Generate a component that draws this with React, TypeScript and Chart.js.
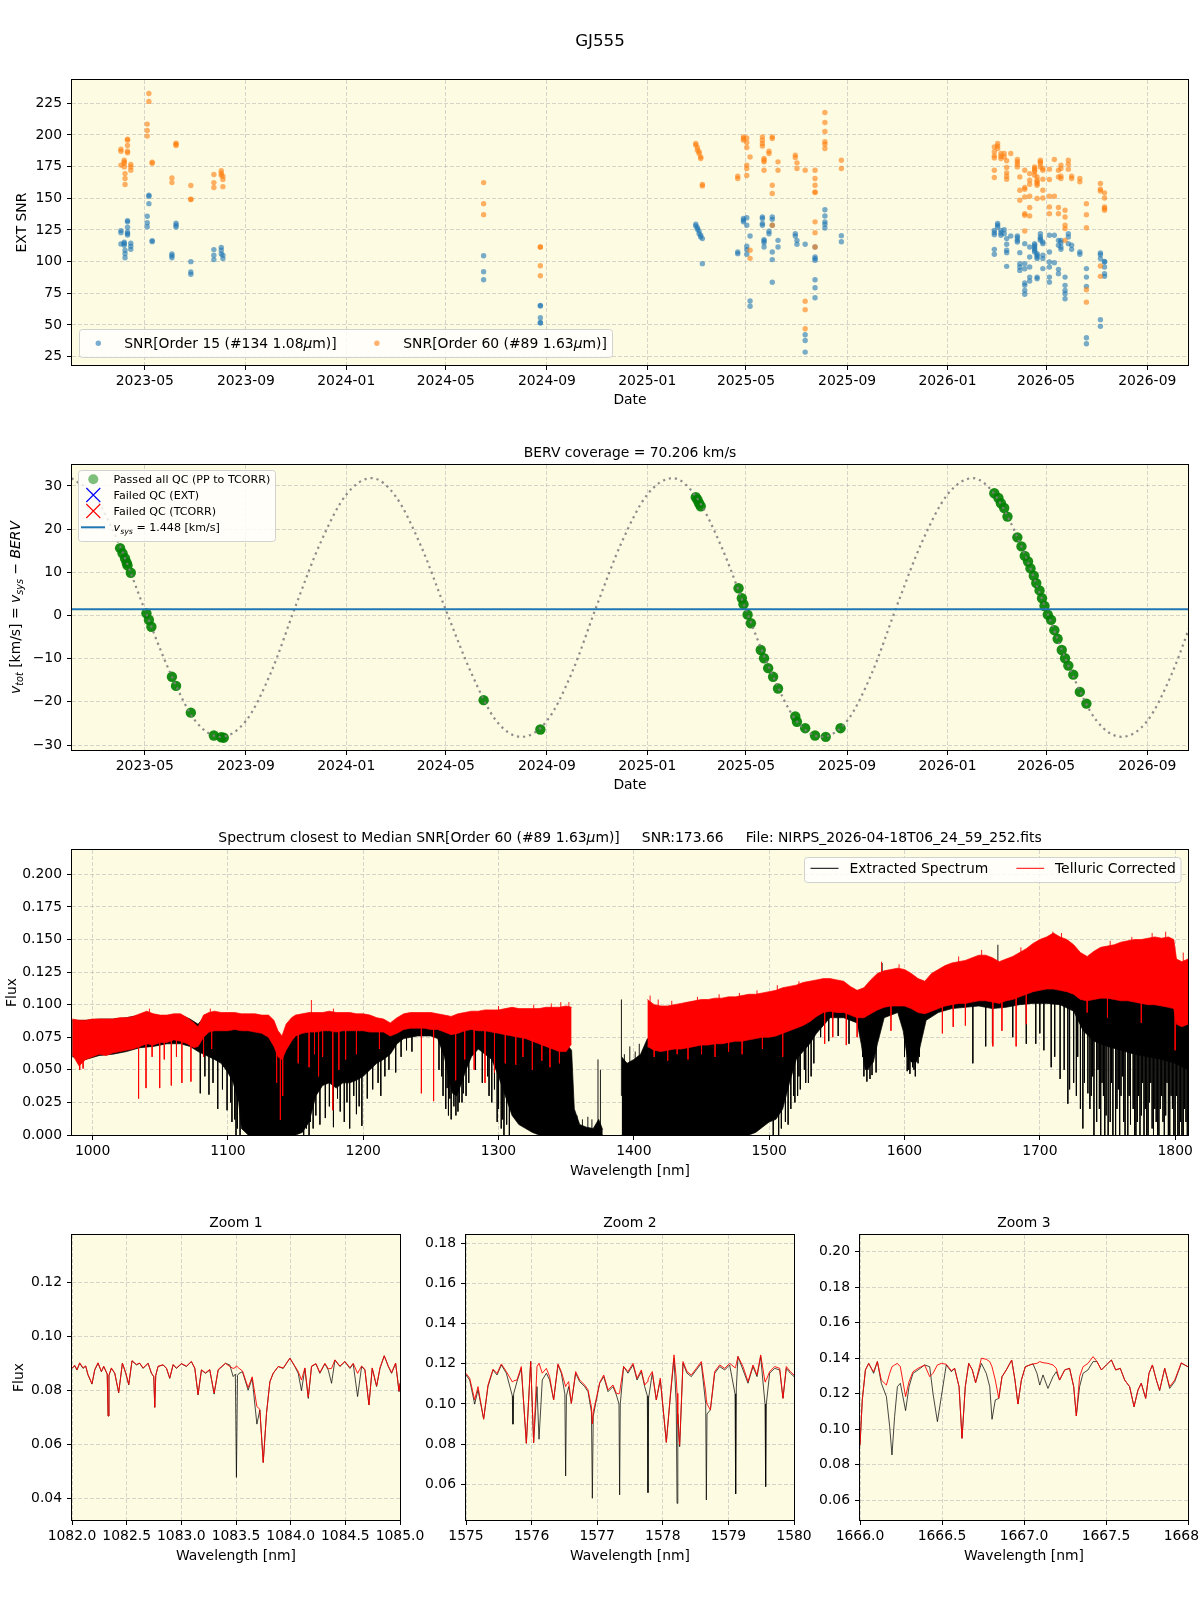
import React, { useEffect, useRef } from 'react';
import { Chart, registerables } from 'chart.js';

Chart.register(...registerables);

/* ---------------- shared styling ---------------- */
const FONT = 'DejaVu Sans';
const PLOT_BG = 'rgb(253, 251, 226)';
const GRID_COLOR = 'rgba(176, 176, 176, 0.65)';
const TICK_SIZE = 13.9;
const LABEL_SIZE = 13.9;
const BLUE = '#1f77b4';
const BLUE_A = 'rgba(31, 119, 180, 0.6)';
const ORANGE_A = 'rgba(255, 127, 14, 0.6)';

/* ---------------- EXT SNR per night: [date, values] ---------------- */
const snrOrder15: [string, number[]][] = [
  ['2023-04-02', [124.5, 122.9, 114.0]],
  ['2023-04-06', [115.3, 114.3, 112.9]],
  ['2023-04-07', [109.0, 106.3, 103.1]],
  ['2023-04-10', [132.4, 131.4, 127.1, 123.4, 122.1, 121.0]],
  ['2023-04-14', [114.5, 112.1, 109.7]],
  ['2023-05-04', [135.8, 130.8, 127.6]],
  ['2023-05-06', [152.4, 151.6, 145.8]],
  ['2023-05-10', [116.6, 115.8]],
  ['2023-06-03', [106.0, 104.7, 103.1]],
  ['2023-06-08', [130.3, 128.7, 127.4]],
  ['2023-06-26', [100.0, 91.8, 90.0]],
  ['2023-07-24', [109.5, 105.0, 101.6]],
  ['2023-08-02', [111.3, 109.0, 106.0]],
  ['2023-08-04', [105.0, 102.4]],
  ['2024-06-16', [104.7, 92.0, 85.7]],
  ['2024-08-24', [65.5, 65.0, 55.7, 52.0, 51.5]],
  ['2025-03-01', [129.5, 128.2]],
  ['2025-03-03', [126.8, 125.5]],
  ['2025-03-05', [124.2, 122.1]],
  ['2025-03-07', [120.8, 119.5]],
  ['2025-03-09', [118.2, 98.4]],
  ['2025-04-21', [107.6, 106.3]],
  ['2025-04-28', [134.0, 132.7, 131.4]],
  ['2025-05-02', [134.6, 128.7, 112.1, 109.5, 105.8]],
  ['2025-05-06', [120.2, 68.9, 64.8]],
  ['2025-05-21', [135.3, 134.0, 130.1, 128.7]],
  ['2025-05-23', [117.4, 116.3, 115.0, 111.6]],
  ['2025-05-29', [124.0, 122.0]],
  ['2025-06-02', [135.3, 133.4, 128.7, 107.6, 101.6, 83.7]],
  ['2025-06-09', [116.8, 111.6]],
  ['2025-06-30', [122.1, 120.2]],
  ['2025-07-02', [116.8, 113.7]],
  ['2025-07-12', [113.7, 42.3, 37.8, 28.6]],
  ['2025-07-24', [111.6, 103.7, 102.4, 101.1, 85.7, 79.4, 71.5]],
  ['2025-08-05', [141.0, 136.0, 131.4, 129.5, 126.6]],
  ['2025-08-25', [120.5, 115.7]],
  ['2026-02-27', [124.7, 122.9, 121.3, 109.7, 105.8]],
  ['2026-03-03', [130.1, 128.7, 127.4]],
  ['2026-03-07', [124.7, 122.6, 120.8]],
  ['2026-03-11', [125.2, 122.1]],
  ['2026-03-14', [118.2, 113.7, 109.0, 107.1, 96.3]],
  ['2026-03-19', [120.2]],
  ['2026-03-27', [120.2, 118.9, 116.8, 115.5]],
  ['2026-03-30', [107.1, 98.4, 95.8, 93.1]],
  ['2026-04-05', [114.2, 98.4, 94.4, 83.1, 81.3, 77.3, 74.2]],
  ['2026-04-11', [111.6, 103.7, 95.8, 87.8, 84.7]],
  ['2026-04-17', [114.2, 112.9, 111.6, 110.2, 108.9, 107.6]],
  ['2026-04-20', [106.3, 105.0, 103.7, 102.4, 87.8, 86.5]],
  ['2026-04-24', [122.1, 119.4, 118.2, 116.8]],
  ['2026-04-27', [115.5, 114.2, 105.0, 102.4, 94.5]],
  ['2026-05-05', [120.8, 107.6, 99.7, 95.8, 87.8, 83.8]],
  ['2026-05-11', [120.8, 99.2]],
  ['2026-05-16', [116.8, 112.9, 93.9, 90.5]],
  ['2026-05-19', [116.8, 115.0, 111.6, 109.7]],
  ['2026-05-24', [87.8, 81.3, 77.3, 74.7, 70.7]],
  ['2026-05-28', [122.1, 119.4, 114.2]],
  ['2026-06-01', [112.9, 109.7]],
  ['2026-06-11', [107.6, 105.8]],
  ['2026-06-19', [94.5, 87.8, 80.5, 39.9, 35.2]],
  ['2026-07-06', [106.8, 105.5, 102.4, 54.2, 48.9]],
  ['2026-07-11', [100.2, 99.7, 95.8, 90.5, 88.4]],
];

const snrOrder60: [string, number[]][] = [
  ['2023-04-02', [188.8, 187.2, 176.2]],
  ['2023-04-06', [180.1, 178.8, 177.5, 174.8]],
  ['2023-04-07', [169.5, 165.6, 160.9]],
  ['2023-04-10', [196.7, 195.9, 191.7, 187.2, 185.9]],
  ['2023-04-14', [176.7, 174.8, 172.2]],
  ['2023-05-04', [208.6, 203.6, 199.1]],
  ['2023-05-06', [232.8, 226.5]],
  ['2023-05-10', [178.5, 177.7]],
  ['2023-06-03', [166.1, 162.4]],
  ['2023-06-08', [193.5, 192.7, 191.7]],
  ['2023-06-26', [160.1, 149.2, 149.0]],
  ['2023-07-24', [168.8, 162.4, 158.5]],
  ['2023-08-02', [171.7, 169.9, 168.3]],
  ['2023-08-04', [167.5, 164.8, 159.2]],
  ['2024-06-16', [162.4, 145.8, 137.1]],
  ['2024-08-24', [111.8, 111.3, 96.8, 88.9]],
  ['2025-03-01', [193.3, 192.0]],
  ['2025-03-03', [190.1, 188.0]],
  ['2025-03-05', [186.7, 185.4]],
  ['2025-03-07', [182.7, 181.4]],
  ['2025-03-09', [160.9, 159.8]],
  ['2025-04-21', [167.5, 165.6]],
  ['2025-04-28', [198.5, 197.2, 195.9]],
  ['2025-05-02', [197.7, 194.0, 190.1, 176.2, 173.5, 168.0]],
  ['2025-05-06', [182.7, 109.0, 102.6]],
  ['2025-05-21', [198.5, 195.9, 193.3, 191.2]],
  ['2025-05-23', [181.4, 180.1, 178.8, 172.2]],
  ['2025-05-29', [187.2, 185.4]],
  ['2025-06-02', [198.5, 197.2, 160.3, 153.8, 128.7]],
  ['2025-06-09', [178.8, 172.2]],
  ['2025-06-30', [184.1, 182.2]],
  ['2025-07-02', [178.0, 173.5]],
  ['2025-07-12', [172.2, 68.7, 62.1, 47.0]],
  ['2025-07-24', [172.2, 165.6, 160.3, 155.1, 154.5, 131.4, 122.9, 111.6]],
  ['2025-08-05', [217.8, 209.9, 202.8, 194.6, 192.7, 189.3]],
  ['2025-08-25', [180.1, 173.5]],
  ['2026-02-27', [190.6, 186.7, 183.5, 181.9, 172.2, 166.4]],
  ['2026-03-03', [193.3, 191.2, 189.3]],
  ['2026-03-07', [185.4, 183.2, 181.4]],
  ['2026-03-11', [185.4, 182.7]],
  ['2026-03-14', [179.6, 174.3, 170.1, 167.5, 165.1]],
  ['2026-03-19', [185.4]],
  ['2026-03-27', [180.6, 178.8, 176.9, 174.8]],
  ['2026-03-30', [166.9, 156.4, 148.5]],
  ['2026-04-05', [172.2, 158.5, 157.1, 151.1, 137.9, 136.6, 124.2]],
  ['2026-04-11', [169.5, 164.3, 161.1, 151.6, 142.7, 136.1]],
  ['2026-04-17', [174.8, 173.5, 172.2, 170.9, 168.3]],
  ['2026-04-20', [166.9, 164.3, 163.0, 161.7, 160.3, 149.8]],
  ['2026-04-24', [180.1, 178.8, 177.5, 174.8]],
  ['2026-04-27', [173.5, 172.2, 165.1, 156.4, 150.3]],
  ['2026-05-05', [173.0, 164.8, 151.6, 143.2, 137.9]],
  ['2026-05-11', [180.6, 151.6]],
  ['2026-05-16', [172.2, 166.9, 142.7, 137.9]],
  ['2026-05-19', [176.2, 173.5, 167.5, 165.6]],
  ['2026-05-24', [140.6, 135.3, 128.7, 126.1, 116.8]],
  ['2026-05-28', [180.1, 176.9, 173.0]],
  ['2026-06-01', [167.5, 165.6]],
  ['2026-06-11', [165.6, 163.0]],
  ['2026-06-19', [145.8, 137.1, 126.8, 77.8, 68.0]],
  ['2026-07-06', [161.7, 157.1, 155.8, 96.5, 88.4]],
  ['2026-07-11', [154.3, 150.3, 143.2, 141.9, 140.6]],
];

const snrTicks = [25, 50, 75, 100, 125, 150, 175, 200, 225];
const snrLimits = [18.4, 243.4];
const dateTicks = ['2023-05', '2023-09', '2024-01', '2024-05', '2024-09', '2025-01', '2025-05', '2025-09', '2026-01', '2026-05', '2026-09'];
const dateLimits = ['2023-02-01T12:00:00Z', '2026-10-20T12:00:00Z'];

/* ---------------- BERV ---------------- */
// barycentric velocity track, first of each month
const bervTrackDates = [
  '2023-02-01', '2023-03-01', '2023-04-01', '2023-05-01', '2023-06-01', '2023-07-01', '2023-08-01', '2023-09-01', '2023-10-01', '2023-11-01', '2023-12-01',
  '2024-01-01', '2024-02-01', '2024-03-01', '2024-04-01', '2024-05-01', '2024-06-01', '2024-07-01', '2024-08-01', '2024-09-01', '2024-10-01', '2024-11-01', '2024-12-01',
  '2025-01-01', '2025-02-01', '2025-03-01', '2025-04-01', '2025-05-01', '2025-06-01', '2025-07-01', '2025-08-01', '2025-09-01', '2025-10-01', '2025-11-01', '2025-12-01',
  '2026-01-01', '2026-02-01', '2026-03-01', '2026-04-01', '2026-05-01', '2026-06-01', '2026-07-01', '2026-08-01', '2026-09-01', '2026-10-01', '2026-11-01',
];
const bervTrack = [
  31.8, 27.6, 16.0, 1.3, -13.3, -24.3, -28.1, -24.4, -13.4, 2.5, 17.0,
  28.0, 31.8, 27.6, 16.0, 1.3, -13.3, -24.3, -28.1, -24.4, -13.4, 2.5, 17.0,
  28.0, 31.8, 27.6, 16.0, 1.3, -13.3, -24.3, -28.1, -24.4, -13.4, 2.5, 17.0,
  28.0, 31.8, 27.6, 16.0, 1.3, -13.3, -24.3, -28.1, -24.4, -13.4, 2.5,
];
// observations that passed all QC: [date, v_tot]
const bervPassed: [string, number][] = [
  ['2023-04-01', 15.6], ['2023-04-04', 14.4], ['2023-04-07', 13.2], ['2023-04-09', 12.2], ['2023-04-10', 11.6], ['2023-04-14', 9.9],
  ['2023-05-03', 0.5], ['2023-05-06', -1.0], ['2023-05-09', -2.6], ['2023-06-03', -14.2], ['2023-06-08', -16.3], ['2023-06-26', -22.5],
  ['2023-07-24', -27.8], ['2023-08-02', -28.2], ['2023-08-05', -28.3],
  ['2024-06-16', -19.6], ['2024-08-24', -26.4],
  ['2025-03-01', 27.4], ['2025-03-03', 26.8], ['2025-03-05', 26.0], ['2025-03-07', 25.3],
  ['2025-04-22', 6.3], ['2025-04-26', 4.0], ['2025-04-28', 2.6], ['2025-05-03', 0.2], ['2025-05-07', -1.8],
  ['2025-05-19', -8.0], ['2025-05-23', -9.9], ['2025-05-28', -12.2], ['2025-06-03', -14.2], ['2025-06-09', -16.9],
  ['2025-06-30', -23.4], ['2025-07-02', -24.6], ['2025-07-12', -26.1], ['2025-07-24', -27.8], ['2025-08-06', -28.1], ['2025-08-24', -26.1],
  ['2026-02-27', 28.3], ['2026-03-04', 27.2], ['2026-03-07', 26.0], ['2026-03-11', 24.9], ['2026-03-15', 22.9],
  ['2026-03-27', 18.1], ['2026-04-01', 16.0], ['2026-04-05', 13.8], ['2026-04-09', 12.5], ['2026-04-12', 10.9],
  ['2026-04-16', 9.2], ['2026-04-19', 7.5], ['2026-04-23', 5.8], ['2026-04-26', 4.0], ['2026-04-29', 2.2],
  ['2026-05-03', 0.2], ['2026-05-07', -1.0], ['2026-05-11', -3.4], ['2026-05-15', -5.4], ['2026-05-20', -8.0],
  ['2026-05-24', -9.9], ['2026-05-28', -11.6], ['2026-06-03', -13.7], ['2026-06-11', -17.7], ['2026-06-19', -20.4],
];
const vsys = 1.448;
const bervCoverage = 70.206;
const bervTicks = [-30, -20, -10, 0, 10, 20, 30];
const bervLimits = [-31.15, 34.85];

/* ---------------- full spectrum ---------------- */
// telluric-corrected flux envelope: [wavelength nm, upper, lower]; null rows are detector gaps
const tcEnvelope: [number, number | null, number | null][] = [
  [985, 0.089, 0.062], [990, 0.088, 0.053], [995, 0.088, 0.058], [1000, 0.089, 0.060], [1005, 0.089, 0.062],
  [1010, 0.089, 0.061], [1015, 0.089, 0.063], [1020, 0.090, 0.064], [1025, 0.090, 0.065], [1030, 0.091, 0.066],
  [1035, 0.093, 0.068], [1040, 0.095, 0.070], [1045, 0.093, 0.069], [1050, 0.092, 0.071], [1055, 0.092, 0.071],
  [1060, 0.093, 0.073], [1065, 0.093, 0.072], [1070, 0.090, 0.070], [1075, 0.086, 0.067], [1078, 0.083, 0.068],
  [1082, 0.092, 0.075], [1086, 0.094, 0.079], [1090, 0.095, 0.080], [1095, 0.094, 0.080], [1100, 0.094, 0.080],
  [1105, 0.094, 0.081], [1110, 0.093, 0.080], [1115, 0.093, 0.080], [1120, 0.093, 0.079], [1125, 0.092, 0.078],
  [1130, 0.092, 0.075], [1134, 0.088, 0.068], [1137, 0.080, 0.060], [1140, 0.076, 0.058], [1143, 0.085, 0.065],
  [1147, 0.090, 0.072], [1150, 0.092, 0.076], [1155, 0.093, 0.078], [1160, 0.094, 0.079], [1165, 0.094, 0.079],
  [1170, 0.094, 0.080], [1175, 0.095, 0.080], [1180, 0.094, 0.079], [1185, 0.094, 0.080], [1190, 0.094, 0.080],
  [1195, 0.093, 0.080], [1200, 0.093, 0.080], [1205, 0.092, 0.079], [1210, 0.090, 0.079], [1215, 0.089, 0.079],
  [1220, 0.086, 0.076], [1225, 0.090, 0.078], [1230, 0.093, 0.081], [1235, 0.094, 0.082], [1240, 0.094, 0.082],
  [1245, 0.094, 0.082], [1250, 0.094, 0.081], [1255, 0.093, 0.081], [1260, 0.092, 0.079], [1265, 0.091, 0.077],
  [1270, 0.093, 0.078], [1275, 0.094, 0.080], [1280, 0.095, 0.081], [1285, 0.095, 0.080], [1290, 0.096, 0.080],
  [1295, 0.096, 0.079], [1300, 0.096, 0.078], [1305, 0.097, 0.077], [1310, 0.098, 0.076], [1315, 0.097, 0.075],
  [1320, 0.097, 0.074], [1325, 0.097, 0.072], [1330, 0.097, 0.070], [1335, 0.098, 0.068], [1340, 0.098, 0.066],
  [1345, 0.098, 0.064], [1350, 0.099, 0.064], [1354, 0.098, 0.070],
  [1380, null, null],
  [1410, 0.104, 0.068], [1415, 0.100, 0.065], [1420, 0.099, 0.064], [1425, 0.099, 0.065], [1430, 0.100, 0.066],
  [1435, 0.101, 0.066], [1440, 0.102, 0.067], [1445, 0.103, 0.068], [1450, 0.104, 0.069], [1455, 0.104, 0.069],
  [1460, 0.105, 0.070], [1465, 0.105, 0.070], [1470, 0.106, 0.071], [1475, 0.106, 0.072], [1480, 0.107, 0.072],
  [1485, 0.108, 0.073], [1490, 0.108, 0.074], [1495, 0.109, 0.075], [1500, 0.110, 0.075], [1505, 0.111, 0.076],
  [1510, 0.113, 0.078], [1515, 0.114, 0.080], [1520, 0.115, 0.082], [1525, 0.117, 0.084], [1530, 0.118, 0.087],
  [1535, 0.119, 0.091], [1540, 0.120, 0.094], [1545, 0.120, 0.095], [1550, 0.119, 0.094], [1555, 0.118, 0.094],
  [1560, 0.114, 0.092], [1565, 0.111, 0.090], [1570, 0.113, 0.090], [1575, 0.119, 0.093], [1580, 0.124, 0.096],
  [1585, 0.126, 0.098], [1590, 0.127, 0.099], [1595, 0.128, 0.099], [1600, 0.127, 0.099], [1605, 0.124, 0.097],
  [1610, 0.120, 0.094], [1615, 0.118, 0.093], [1620, 0.124, 0.095], [1625, 0.127, 0.097], [1630, 0.130, 0.099],
  [1635, 0.132, 0.100], [1640, 0.133, 0.101], [1645, 0.134, 0.101], [1650, 0.136, 0.102], [1655, 0.138, 0.103],
  [1660, 0.138, 0.103], [1665, 0.136, 0.102], [1670, 0.133, 0.101], [1675, 0.135, 0.103], [1680, 0.137, 0.104],
  [1685, 0.140, 0.106], [1690, 0.143, 0.108], [1695, 0.147, 0.110], [1700, 0.150, 0.111], [1705, 0.152, 0.112],
  [1710, 0.155, 0.112], [1715, 0.152, 0.111], [1720, 0.150, 0.110], [1725, 0.146, 0.108], [1730, 0.140, 0.104],
  [1735, 0.137, 0.103], [1740, 0.141, 0.104], [1745, 0.144, 0.105], [1750, 0.145, 0.105], [1755, 0.146, 0.104],
  [1760, 0.148, 0.103], [1765, 0.149, 0.103], [1770, 0.150, 0.102], [1775, 0.150, 0.101], [1780, 0.151, 0.100],
  [1785, 0.152, 0.100], [1790, 0.151, 0.099], [1795, 0.152, 0.098], [1799, 0.150, 0.097], [1801, 0.135, 0.085],
  [1805, 0.133, 0.083], [1809.5, 0.135, 0.085],
];
// individual lines reaching beyond the telluric-corrected envelope: [wavelength, flux]
const tcLines: [number, number][] = [
  [990.5, 0.050], [993, 0.051], [1034, 0.028], [1039.5, 0.036], [1042, 0.097], [1044, 0.060], [1049.6, 0.036],
  [1053, 0.058], [1058.2, 0.038], [1062, 0.060], [1066, 0.040], [1072.7, 0.041], [1082, 0.060], [1087, 0.097],
  [1088, 0.066], [1136, 0.040], [1138.8, 0.0115], [1140.5, 0.030], [1152, 0.055], [1160, 0.052], [1161.7, 0.1036],
  [1164, 0.062], [1167, 0.045], [1170, 0.060], [1177.5, 0.019], [1178, 0.097], [1182, 0.050], [1187, 0.058],
  [1195, 0.062], [1212, 0.066], [1243, 0.032], [1252, 0.026], [1268.3, 0.042], [1275, 0.058], [1282, 0.050],
  [1290, 0.040], [1297, 0.048], [1300, 0.099], [1305, 0.055], [1312.7, 0.054], [1318, 0.060], [1325, 0.050],
  [1326, 0.100], [1332, 0.057], [1338, 0.052], [1339, 0.101], [1345, 0.055], [1346, 0.102], [1349.6, 0.066],
  [1352, 0.102], [1412, 0.107], [1415, 0.060], [1418, 0.104], [1425, 0.057], [1428, 0.103], [1432, 0.062],
  [1440, 0.058], [1447, 0.106], [1450, 0.062], [1460, 0.060], [1463, 0.108], [1470, 0.064], [1478, 0.109],
  [1480, 0.062], [1491, 0.111], [1495, 0.066], [1506, 0.115], [1510, 0.060], [1522, 0.118], [1541, 0.070],
  [1547, 0.075], [1557, 0.069], [1565, 0.075], [1583, 0.133], [1590, 0.080], [1596, 0.131], [1628, 0.078],
  [1636, 0.083], [1640, 0.137], [1645, 0.084], [1657, 0.142], [1665.3, 0.068], [1672, 0.080], [1682.5, 0.068],
  [1686, 0.144], [1690, 0.085], [1709.6, 0.156], [1716, 0.155], [1735, 0.094], [1750, 0.090], [1752, 0.149],
  [1768, 0.152], [1775, 0.086], [1783, 0.155], [1793, 0.156], [1800, 0.065], [1806, 0.140],
];
// extracted (uncorrected) flux envelope: [wavelength nm, upper, lower]
const extEnvelope: [number, number | null, number | null][] = [
  [985, 0.088, 0.060], [995, 0.088, 0.058], [1005, 0.089, 0.061], [1015, 0.089, 0.062], [1025, 0.090, 0.064],
  [1035, 0.092, 0.067], [1045, 0.092, 0.068], [1055, 0.091, 0.070], [1065, 0.092, 0.070], [1072, 0.089, 0.068],
  [1078, 0.085, 0.064], [1082, 0.090, 0.062], [1086, 0.091, 0.060], [1090, 0.090, 0.058], [1095, 0.089, 0.055],
  [1100, 0.088, 0.048], [1104, 0.087, 0.040], [1108, 0.085, 0.025], [1110, 0.084, 0.005], [1115, 0.083, 0],
  [1120, 0.082, 0], [1125, 0.081, 0], [1130, 0.080, 0], [1135, 0.076, 0], [1140, 0.070, 0],
  [1145, 0.080, 0], [1150, 0.082, 0], [1155, 0.083, 0.002], [1160, 0.084, 0.010], [1165, 0.084, 0.030],
  [1170, 0.085, 0.038], [1175, 0.086, 0.040], [1180, 0.086, 0.036], [1185, 0.086, 0.040], [1190, 0.086, 0.040],
  [1195, 0.086, 0.042], [1200, 0.086, 0.045], [1205, 0.085, 0.050], [1210, 0.085, 0.055], [1215, 0.084, 0.058],
  [1220, 0.082, 0.062], [1225, 0.084, 0.070], [1230, 0.086, 0.074], [1240, 0.087, 0.076], [1250, 0.087, 0.076],
  [1255, 0.086, 0.074], [1260, 0.085, 0.060], [1263, 0.083, 0.045], [1266, 0.082, 0.032], [1269, 0.082, 0.030],
  [1272, 0.083, 0.038], [1276, 0.084, 0.050], [1280, 0.086, 0.060], [1285, 0.086, 0.066], [1290, 0.086, 0.062],
  [1295, 0.085, 0.058], [1300, 0.084, 0.045], [1305, 0.083, 0.030], [1310, 0.082, 0.015], [1315, 0.081, 0.008],
  [1320, 0.080, 0.005], [1325, 0.078, 0.002], [1330, 0.076, 0], [1335, 0.075, 0], [1340, 0.073, 0],
  [1345, 0.072, 0], [1350, 0.070, 0], [1354, 0.065, 0], [1356, 0.020, 0], [1360, 0.008, 0],
  [1365, 0.006, 0], [1370, 0.005, 0], [1374, 0.012, 0], [1377, 0.004, 0],
  [1384, null, null],
  [1391, 0.060, 0], [1395, 0.055, 0], [1400, 0.058, 0], [1405, 0.062, 0], [1410, 0.074, 0],
  [1415, 0.072, 0], [1420, 0.072, 0], [1425, 0.072, 0], [1430, 0.073, 0], [1435, 0.073, 0],
  [1440, 0.074, 0], [1445, 0.075, 0], [1450, 0.076, 0], [1455, 0.076, 0], [1460, 0.077, 0],
  [1465, 0.077, 0], [1470, 0.078, 0], [1475, 0.079, 0], [1480, 0.079, 0], [1485, 0.080, 0],
  [1490, 0.081, 0.002], [1495, 0.082, 0.006], [1500, 0.082, 0.010], [1505, 0.083, 0.012], [1510, 0.085, 0.020],
  [1515, 0.087, 0.040], [1520, 0.089, 0.058], [1525, 0.091, 0.064], [1530, 0.094, 0.070], [1535, 0.097, 0.078],
  [1545, 0.100, 0.090], [1555, 0.100, 0.090], [1565, 0.097, 0.086], [1568, 0.096, 0.070], [1571, 0.096, 0.050],
  [1574, 0.097, 0.052], [1577, 0.098, 0.056], [1580, 0.100, 0.070], [1585, 0.104, 0.090], [1595, 0.105, 0.094],
  [1599, 0.105, 0.080], [1602, 0.103, 0.060], [1605, 0.103, 0.056], [1609, 0.100, 0.056], [1612, 0.099, 0.070],
  [1616, 0.099, 0.088], [1625, 0.103, 0.094], [1635, 0.106, 0.097], [1645, 0.107, 0.098], [1655, 0.109, 0.099],
  [1665, 0.108, 0.097], [1675, 0.109, 0.098], [1685, 0.112, 0.100], [1695, 0.116, 0.101], [1705, 0.118, 0.101],
  [1715, 0.117, 0.100], [1725, 0.114, 0.095], [1732, 0.110, 0.080], [1740, 0.110, 0.072], [1750, 0.111, 0.068],
  [1760, 0.109, 0.065], [1770, 0.108, 0.062], [1780, 0.106, 0.060], [1790, 0.105, 0.058], [1800, 0.103, 0.055],
  [1809.5, 0.092, 0.050],
];
const extLines: [number, number][] = [
  [1079.6, 0.032], [1083, 0.045], [1086, 0.031], [1089, 0.040], [1092.5, 0.020], [1096, 0.035], [1099.4, 0.019],
  [1102, 0.025], [1103, 0.010], [1105, 0.012], [1106, 0], [1107, 0.005], [1109, 0],
  [1156, 0], [1158, 0.005], [1160, 0], [1161, 0.010], [1162, 0.020], [1163, 0.005], [1165, 0.015], [1168, 0.008],
  [1172, 0.013], [1175, 0.022], [1178, 0.006], [1181, 0.028], [1183, 0.018], [1186, 0.010], [1188, 0.025],
  [1190, 0.005], [1193, 0.030], [1195, 0.016], [1197, 0.022], [1199, 0.007], [1203, 0.028], [1207, 0.035],
  [1211, 0.040], [1213, 0.030], [1216, 0.045], [1219, 0.050], [1224, 0.048], [1228, 0.060], [1232, 0.065],
  [1236, 0.064], [1256, 0.050], [1258, 0.045], [1259, 0.030], [1261, 0.020], [1262, 0.036], [1263, 0.015],
  [1264, 0.028], [1265, 0.012], [1267, 0.022], [1268.5, 0.015], [1270, 0.018], [1271, 0.025], [1273, 0.025],
  [1274, 0.032], [1276, 0.030], [1278, 0.040], [1283, 0.050], [1288, 0.040], [1292, 0.045], [1293, 0.030],
  [1295, 0.025], [1297, 0.035], [1299, 0.010], [1300, 0.020], [1302, 0.005], [1303, 0.012], [1304, 0],
  [1306, 0.008], [1308, 0], [1358, 0.015], [1362, 0.012], [1366, 0.014], [1369, 0.012], [1373.5, 0.058],
  [1375.3, 0.050], [1390.8, 0.104], [1393, 0.062], [1397, 0.068], [1401, 0.064], [1404, 0.070], [1407, 0.066],
  [1503, 0], [1507, 0], [1509, 0.005], [1512, 0.010], [1514, 0.008], [1516, 0.020], [1518, 0.030], [1519, 0.025],
  [1521, 0.030], [1522, 0.045], [1523, 0.035], [1526, 0.050], [1527, 0.040], [1529, 0.040], [1531, 0.045],
  [1533, 0.055], [1538, 0.075], [1544, 0.072], [1551, 0.076], [1559, 0.070], [1569, 0.060], [1570, 0.045],
  [1572.2, 0.041], [1573, 0.050], [1574.5, 0.043], [1576, 0.046], [1579, 0.048], [1583.5, 0.132], [1600, 0.060],
  [1602, 0.049], [1603, 0.050], [1604, 0.047], [1606, 0.052], [1607, 0.050], [1608, 0.045], [1610, 0.055],
  [1611, 0.060], [1650.5, 0.055], [1660, 0.068], [1665, 0.070], [1669, 0.146], [1680, 0.075], [1690, 0.070],
  [1697, 0.070], [1700, 0.078], [1703, 0.065], [1708.4, 0.052], [1711, 0.060], [1715, 0.043], [1718, 0.050],
  [1720.7, 0.024], [1722, 0.035], [1725, 0.040], [1727, 0.030], [1728, 0.060], [1730, 0.020], [1731.8, 0.005],
  [1733, 0.040], [1735.5, 0.032], [1737, 0.020], [1738, 0.030], [1739, 0.045], [1740, 0], [1742, 0.010],
  [1743, 0.050], [1744, 0.020], [1745, 0], [1746, 0.040], [1747, 0.030], [1748, 0], [1749, 0.015], [1750.5, 0],
  [1752, 0.010], [1753, 0.040], [1754, 0], [1756, 0], [1757, 0.020], [1758, 0.035], [1759, 0], [1760, 0.030],
  [1761, 0.045], [1762, 0.010], [1763, 0], [1765, 0], [1766, 0.030], [1767, 0.008], [1769, 0.020], [1770, 0],
  [1771, 0], [1772, 0.010], [1773, 0.030], [1774, 0], [1775, 0.015], [1776, 0.040], [1777, 0], [1778, 0.020],
  [1779, 0], [1780, 0], [1781, 0.025], [1782, 0.040], [1783, 0.005], [1784, 0], [1785, 0.020], [1786, 0.010],
  [1787, 0], [1788, 0], [1789, 0.020], [1790, 0.030], [1791, 0.010], [1792, 0], [1793, 0.015], [1794, 0.040],
  [1795, 0], [1796, 0], [1797, 0.030], [1798, 0.020], [1799, 0], [1800, 0], [1801, 0.030], [1802, 0], [1803, 0],
  [1804, 0.010], [1805, 0], [1806, 0], [1807, 0.020], [1808, 0.010], [1809, 0],
];
const specWaveTicks = [1000, 1100, 1200, 1300, 1400, 1500, 1600, 1700, 1800];
const specFluxTicks = [0, 0.025, 0.05, 0.075, 0.1, 0.125, 0.15, 0.175, 0.2];
const specWaveLimits = [984.8, 1809.5];
const specFluxLimits = [0, 0.2187];

/* ---------------- zoom windows: [wavelength, extracted, telluric corrected] ---------------- */
const zoom1Rows: [number, number, number][] = [
  [1082.000, 0.0881, 0.0881], [1082.024, 0.0891, 0.0893], [1082.046, 0.0875, 0.0877], [1082.070, 0.0900, 0.0902],
  [1082.101, 0.0881, 0.0884], [1082.125, 0.0890, 0.0890], [1082.146, 0.0857, 0.0859], [1082.183, 0.0823, 0.0825],
  [1082.208, 0.0875, 0.0877], [1082.238, 0.0900, 0.0902], [1082.269, 0.0869, 0.0870], [1082.290, 0.0888, 0.0889],
  [1082.322, 0.0860, 0.0861], [1082.330, 0.0705, 0.0705], [1082.338, 0.0855, 0.0856], [1082.360, 0.0881, 0.0883],
  [1082.391, 0.0863, 0.0864], [1082.427, 0.0791, 0.0792], [1082.461, 0.0900, 0.0901], [1082.491, 0.0863, 0.0866],
  [1082.519, 0.0820, 0.0822], [1082.549, 0.0909, 0.0910], [1082.589, 0.0894, 0.0896], [1082.619, 0.0900, 0.0901],
  [1082.650, 0.0881, 0.0883], [1082.696, 0.0900, 0.0900], [1082.726, 0.0863, 0.0865], [1082.748, 0.0850, 0.0851],
  [1082.757, 0.0737, 0.0737], [1082.766, 0.0855, 0.0856], [1082.787, 0.0888, 0.0889], [1082.833, 0.0894, 0.0895],
  [1082.864, 0.0881, 0.0882], [1082.894, 0.0844, 0.0846], [1082.925, 0.0894, 0.0896], [1082.955, 0.0881, 0.0883],
  [1083.001, 0.0898, 0.0899], [1083.047, 0.0888, 0.0890], [1083.092, 0.0906, 0.0907], [1083.123, 0.0881, 0.0883],
  [1083.153, 0.0783, 0.0785], [1083.184, 0.0875, 0.0876], [1083.221, 0.0863, 0.0865], [1083.260, 0.0875, 0.0877],
  [1083.300, 0.0786, 0.0790], [1083.337, 0.0875, 0.0877], [1083.373, 0.0888, 0.0890], [1083.404, 0.0900, 0.0900],
  [1083.443, 0.0894, 0.0888], [1083.474, 0.0851, 0.0881], [1083.494, 0.0860, 0.0884], [1083.504, 0.0478, 0.0891],
  [1083.514, 0.0855, 0.0886], [1083.529, 0.0863, 0.0881], [1083.559, 0.0869, 0.0872], [1083.611, 0.0801, 0.0810],
  [1083.648, 0.0844, 0.0850], [1083.691, 0.0675, 0.0740], [1083.718, 0.0727, 0.0730], [1083.749, 0.0533, 0.0533],
  [1083.779, 0.0715, 0.0715], [1083.810, 0.0832, 0.0832], [1083.840, 0.0863, 0.0863], [1083.886, 0.0888, 0.0888],
  [1083.932, 0.0881, 0.0883], [1083.993, 0.0919, 0.0919], [1084.038, 0.0888, 0.0890], [1084.069, 0.0863, 0.0870],
  [1084.099, 0.0799, 0.0838], [1084.130, 0.0881, 0.0883], [1084.161, 0.0770, 0.0775], [1084.191, 0.0888, 0.0890],
  [1084.231, 0.0898, 0.0899], [1084.267, 0.0863, 0.0866], [1084.313, 0.0898, 0.0900], [1084.344, 0.0875, 0.0880],
  [1084.374, 0.0826, 0.0881], [1084.405, 0.0912, 0.0913], [1084.450, 0.0888, 0.0890], [1084.496, 0.0906, 0.0907],
  [1084.542, 0.0881, 0.0884], [1084.572, 0.0898, 0.0900], [1084.612, 0.0777, 0.0863], [1084.649, 0.0888, 0.0890],
  [1084.679, 0.0875, 0.0878], [1084.716, 0.0746, 0.0746], [1084.746, 0.0881, 0.0883], [1084.786, 0.0814, 0.0816],
  [1084.817, 0.0881, 0.0884], [1084.856, 0.0928, 0.0928], [1084.893, 0.0888, 0.0890], [1084.923, 0.0863, 0.0866],
  [1084.960, 0.0900, 0.0901], [1084.991, 0.0795, 0.0797], [1085.000, 0.0826, 0.0826],
];
const zoom2Rows: [number, number, number][] = [
  [1575.000, 0.1144, 0.1152], [1575.056, 0.1119, 0.1128], [1575.132, 0.0999, 0.1020], [1575.183, 0.1070, 0.1086],
  [1575.269, 0.0924, 0.0924], [1575.335, 0.1086, 0.1094], [1575.412, 0.1169, 0.1173], [1575.473, 0.1144, 0.1152],
  [1575.539, 0.1194, 0.1199], [1575.615, 0.1153, 0.1161], [1575.706, 0.1040, 0.1110], [1575.716, 0.0899, 0.1111],
  [1575.726, 0.1050, 0.1115], [1575.777, 0.1111, 0.1119], [1575.843, 0.1177, 0.1186], [1575.920, 0.0804, 0.0804],
  [1575.986, 0.1211, 0.1211], [1576.031, 0.0807, 0.0807], [1576.082, 0.1086, 0.1186], [1576.113, 0.0824, 0.1202],
  [1576.163, 0.1119, 0.1153], [1576.225, 0.1153, 0.1177], [1576.275, 0.1119, 0.1136], [1576.336, 0.1020, 0.1020],
  [1576.402, 0.1194, 0.1199], [1576.453, 0.1153, 0.1161], [1576.507, 0.1050, 0.1100], [1576.519, 0.0641, 0.1086],
  [1576.531, 0.1040, 0.1095], [1576.565, 0.1086, 0.1111], [1576.606, 0.1003, 0.1003], [1576.672, 0.1153, 0.1161],
  [1576.733, 0.1111, 0.1119], [1576.809, 0.1086, 0.1094], [1576.860, 0.1061, 0.1070], [1576.912, 0.0960, 0.0985],
  [1576.926, 0.0530, 0.0900], [1576.940, 0.0940, 0.0960], [1576.987, 0.1020, 0.1028], [1577.038, 0.1103, 0.1106],
  [1577.099, 0.1136, 0.1144], [1577.165, 0.1061, 0.1070], [1577.241, 0.1086, 0.1094], [1577.292, 0.1045, 0.1053],
  [1577.332, 0.1000, 0.1050], [1577.342, 0.0547, 0.1053], [1577.352, 0.1000, 0.1080], [1577.403, 0.1186, 0.1186],
  [1577.469, 0.1153, 0.1161], [1577.546, 0.1194, 0.1202], [1577.607, 0.1119, 0.1128], [1577.673, 0.1161, 0.1169],
  [1577.724, 0.1086, 0.1094], [1577.764, 0.1040, 0.1110], [1577.774, 0.0558, 0.1119], [1577.784, 0.1030, 0.1130],
  [1577.840, 0.1153, 0.1161], [1577.901, 0.1020, 0.1020], [1577.962, 0.1119, 0.1128], [1578.054, 0.0809, 0.0809],
  [1578.115, 0.1036, 0.1045], [1578.171, 0.1227, 0.1244], [1578.205, 0.1000, 0.1130], [1578.217, 0.0505, 0.1053],
  [1578.229, 0.0950, 0.0900], [1578.257, 0.0787, 0.0796], [1578.308, 0.1202, 0.1211], [1578.369, 0.1153, 0.1161],
  [1578.435, 0.1136, 0.1144], [1578.511, 0.1169, 0.1177], [1578.587, 0.1202, 0.1211], [1578.654, 0.1000, 0.1060],
  [1578.664, 0.0522, 0.1020], [1578.674, 0.0950, 0.1000], [1578.725, 0.0970, 0.0970], [1578.791, 0.1153, 0.1161],
  [1578.867, 0.1186, 0.1194], [1578.943, 0.1169, 0.1177], [1579.019, 0.1194, 0.1202], [1579.101, 0.1050, 0.1180],
  [1579.111, 0.0552, 0.1186], [1579.121, 0.1080, 0.1200], [1579.146, 0.1236, 0.1236], [1579.223, 0.1169, 0.1186],
  [1579.299, 0.1103, 0.1111], [1579.375, 0.1186, 0.1194], [1579.436, 0.1136, 0.1144], [1579.492, 0.1236, 0.1244],
  [1579.558, 0.1000, 0.1110], [1579.568, 0.0588, 0.1119], [1579.578, 0.1000, 0.1120], [1579.629, 0.1153, 0.1161],
  [1579.705, 0.1177, 0.1186], [1579.782, 0.1169, 0.1177], [1579.832, 0.1028, 0.1028], [1579.883, 0.1177, 0.1186],
  [1579.944, 0.1153, 0.1161], [1580.000, 0.1136, 0.1144],
];
const zoom3Rows: [number, number, number][] = [
  [1666.000, 0.0911, 0.0911], [1666.014, 0.1165, 0.1165], [1666.033, 0.1334, 0.1334], [1666.053, 0.1371, 0.1371],
  [1666.069, 0.1343, 0.1343], [1666.083, 0.1315, 0.1324], [1666.106, 0.1381, 0.1381], [1666.130, 0.1259, 0.1277],
  [1666.161, 0.1184, 0.1249], [1666.181, 0.1015, 0.1315], [1666.195, 0.0855, 0.1352], [1666.211, 0.1071, 0.1362],
  [1666.228, 0.1240, 0.1371], [1666.246, 0.1259, 0.1352], [1666.278, 0.1105, 0.1184], [1666.299, 0.1240, 0.1268],
  [1666.323, 0.1315, 0.1324], [1666.354, 0.1334, 0.1343], [1666.394, 0.1362, 0.1362], [1666.425, 0.1352, 0.1296],
  [1666.445, 0.1202, 0.1315], [1666.472, 0.1043, 0.1362], [1666.496, 0.1184, 0.1371], [1666.526, 0.1362, 0.1366],
  [1666.557, 0.1324, 0.1330], [1666.577, 0.1343, 0.1343], [1666.604, 0.1240, 0.1240], [1666.622, 0.0949, 0.0949],
  [1666.642, 0.1240, 0.1240], [1666.663, 0.1371, 0.1371], [1666.685, 0.1334, 0.1334], [1666.705, 0.1262, 0.1262],
  [1666.740, 0.1371, 0.1400], [1666.770, 0.1315, 0.1394], [1666.791, 0.1240, 0.1381], [1666.805, 0.1056, 0.1352],
  [1666.825, 0.1165, 0.1277], [1666.846, 0.1174, 0.1174], [1666.866, 0.1296, 0.1296], [1666.892, 0.1334, 0.1334],
  [1666.925, 0.1390, 0.1390], [1666.945, 0.1277, 0.1277], [1666.963, 0.1142, 0.1142], [1666.984, 0.1277, 0.1277],
  [1667.008, 0.1352, 0.1352], [1667.035, 0.1362, 0.1362], [1667.055, 0.1368, 0.1368], [1667.079, 0.1315, 0.1371],
  [1667.096, 0.1249, 0.1381], [1667.116, 0.1306, 0.1375], [1667.146, 0.1230, 0.1371], [1667.177, 0.1296, 0.1362],
  [1667.197, 0.1324, 0.1343], [1667.217, 0.1277, 0.1277], [1667.248, 0.1334, 0.1334], [1667.278, 0.1343, 0.1343],
  [1667.303, 0.1240, 0.1240], [1667.319, 0.1075, 0.1075], [1667.339, 0.1240, 0.1296], [1667.360, 0.1315, 0.1352],
  [1667.390, 0.1334, 0.1371], [1667.421, 0.1381, 0.1409], [1667.445, 0.1381, 0.1381], [1667.472, 0.1334, 0.1334],
  [1667.502, 0.1362, 0.1362], [1667.533, 0.1390, 0.1390], [1667.559, 0.1334, 0.1334], [1667.587, 0.1343, 0.1343],
  [1667.614, 0.1277, 0.1277], [1667.644, 0.1240, 0.1240], [1667.671, 0.1127, 0.1127], [1667.695, 0.1221, 0.1221],
  [1667.715, 0.1259, 0.1259], [1667.742, 0.1174, 0.1174], [1667.762, 0.1315, 0.1315], [1667.783, 0.1362, 0.1362],
  [1667.807, 0.1277, 0.1277], [1667.827, 0.1217, 0.1221], [1667.858, 0.1343, 0.1343], [1667.888, 0.1230, 0.1240],
  [1667.919, 0.1268, 0.1277], [1667.959, 0.1371, 0.1375], [1667.980, 0.1362, 0.1362], [1668.000, 0.1352, 0.1352],
];
const zoom1WaveTicks = [1082, 1082.5, 1083, 1083.5, 1084, 1084.5, 1085];
const zoom1FluxTicks = [0.04, 0.06, 0.08, 0.1, 0.12];
const zoom2WaveTicks = [1575, 1576, 1577, 1578, 1579, 1580];
const zoom2FluxTicks = [0.06, 0.08, 0.1, 0.12, 0.14, 0.16, 0.18];
const zoom3WaveTicks = [1666, 1666.5, 1667, 1667.5, 1668];
const zoom3FluxTicks = [0.06, 0.08, 0.1, 0.12, 0.14, 0.16, 0.18, 0.2];

/* ---------------- text helpers ---------------- */
type Seg = { t: string; it?: boolean; sub?: boolean };
type Label = { segs: Seg[]; x: number; y: number; size: number; align?: 'left' | 'center'; rotate?: boolean };

const plain = (t: string): Seg[] => [{ t }];
const micron = (before: string, after: string): Seg[] => [{ t: before }, { t: 'μ', it: true }, { t: after }];

function fontSpec(size: number, italic?: boolean) {
  return `${italic ? 'italic ' : ''}${size}px "${FONT}"`;
}

function drawRich(ctx: CanvasRenderingContext2D, l: Label) {
  const subScale = 0.7;
  ctx.save();
  ctx.translate(l.x, l.y);
  if (l.rotate) ctx.rotate(-Math.PI / 2);
  let w = 0;
  for (const s of l.segs) {
    ctx.font = fontSpec(s.sub ? l.size * subScale : l.size, s.it);
    w += ctx.measureText(s.t).width;
  }
  let cx = l.align === 'left' ? 0 : -w / 2;
  ctx.fillStyle = '#000';
  ctx.textAlign = 'left';
  ctx.textBaseline = 'alphabetic';
  const base = l.size * 0.36;
  for (const s of l.segs) {
    ctx.font = fontSpec(s.sub ? l.size * subScale : l.size, s.it);
    ctx.fillText(s.t, cx, base + (s.sub ? l.size * 0.22 : 0));
    cx += ctx.measureText(s.t).width;
  }
  ctx.restore();
}

function legendFrame(ctx: CanvasRenderingContext2D, x: number, y: number, w: number, h: number) {
  const r = 3;
  ctx.save();
  ctx.beginPath();
  ctx.moveTo(x + r, y);
  ctx.arcTo(x + w, y, x + w, y + h, r);
  ctx.arcTo(x + w, y + h, x, y + h, r);
  ctx.arcTo(x, y + h, x, y, r);
  ctx.arcTo(x, y, x + w, y, r);
  ctx.closePath();
  ctx.fillStyle = 'rgba(255,255,255,0.8)';
  ctx.fill();
  ctx.strokeStyle = 'rgba(204,204,204,0.9)';
  ctx.lineWidth = 1;
  ctx.stroke();
  ctx.restore();
}

function dot(ctx: CanvasRenderingContext2D, x: number, y: number, r: number, color: string) {
  ctx.save();
  ctx.beginPath();
  ctx.arc(x, y, r, 0, Math.PI * 2);
  ctx.fillStyle = color;
  ctx.fill();
  ctx.restore();
}

function cross(ctx: CanvasRenderingContext2D, x: number, y: number, half: number, color: string) {
  ctx.save();
  ctx.strokeStyle = color;
  ctx.lineWidth = 1.1;
  ctx.beginPath();
  ctx.moveTo(x - half, y - half);
  ctx.lineTo(x + half, y + half);
  ctx.moveTo(x - half, y + half);
  ctx.lineTo(x + half, y - half);
  ctx.stroke();
  ctx.restore();
}

function hline(ctx: CanvasRenderingContext2D, x1: number, x2: number, y: number, color: string, width: number) {
  ctx.save();
  ctx.strokeStyle = color;
  ctx.lineWidth = width;
  ctx.beginPath();
  ctx.moveTo(x1, y);
  ctx.lineTo(x2, y);
  ctx.stroke();
  ctx.restore();
}

/* ---------------- axis helpers ---------------- */
function linearAxis(axis: 'x' | 'y', limits: number[], ticks: number[], fmt: (v: number, i: number) => string, size: number) {
  return {
    type: 'linear',
    position: axis === 'x' ? 'bottom' : 'left',
    min: limits[0],
    max: limits[1],
    afterBuildTicks: (s: any) => {
      s.ticks = ticks.map((v) => ({ value: v }));
    },
    afterFit: (s: any) => {
      if (axis === 'x') s.height = size;
      else s.width = size;
    },
    grid: {
      color: GRID_COLOR,
      lineWidth: 0.8,
      drawTicks: true,
      tickLength: 5,
      tickWidth: 1,
      tickColor: '#000',
      tickBorderDash: [],
    },
    border: { display: false, dash: [4, 2] },
    ticks: {
      autoSkip: false,
      maxRotation: 0,
      minRotation: 0,
      padding: axis === 'x' ? 3 : 5,
      color: '#000',
      font: { family: FONT, size: TICK_SIZE },
      callback: (v: any, i: number) => fmt(Number(v), i),
    },
  };
}

const ms = (d: string) => Date.parse(d);
const dateAxis = (size: number) =>
  linearAxis('x', dateLimits.map(ms), dateTicks.map((t) => ms(t + '-01')), (_v, i) => dateTicks[i], size);
const signed = (v: number) => (v < 0 ? '\u2212' + Math.abs(v) : String(v));

/* ---------------- dataset helpers ---------------- */
function envelopeSets(rows: [number, number | null, number | null][], color: string, width: number) {
  const sets: any[] = [];
  let seg: [number, number | null, number | null][] = [];
  const flush = () => {
    if (seg.length > 1) {
      sets.push({
        data: seg.map((r) => ({ x: r[0], y: r[1] })),
        borderColor: color,
        backgroundColor: color,
        borderWidth: width,
        fill: '+1',
        pointRadius: 0,
        clip: 0,
      });
      sets.push({
        data: seg.map((r) => ({ x: r[0], y: r[2] })),
        borderColor: color,
        borderWidth: width,
        fill: false,
        pointRadius: 0,
        clip: 0,
      });
    }
    seg = [];
  };
  rows.forEach((r) => {
    if (r[1] === null) flush();
    else seg.push(r);
  });
  flush();
  return sets;
}

function lineSet(lines: [number, number][], env: [number, number | null, number | null][], color: string, width: number) {
  const valid = env.filter((r) => r[1] !== null) as [number, number, number][];
  const data: any[] = [];
  lines.forEach(([w, f]) => {
    let best = valid[0];
    valid.forEach((r) => {
      if (Math.abs(r[0] - w) < Math.abs(best[0] - w)) best = r;
    });
    data.push({ x: w, y: (best[1] + best[2]) / 2 }, { x: w, y: f }, { x: w, y: null });
  });
  return { data, borderColor: color, borderWidth: width, fill: false, pointRadius: 0, spanGaps: false, clip: 0 };
}

/* ---------------- panel definitions ---------------- */
type Built = { type: string; datasets: any[]; x: any; y: any };
type PanelSpec = {
  key: string;
  x: number; y: number; w: number; h: number;
  ml: number; mr: number; mt: number; mb: number;
  labels: Label[];
  legend?: (ctx: CanvasRenderingContext2D) => void;
  build: () => Built;
};

const snrPoints = (rows: [string, number[]][]) =>
  rows.flatMap(([d, vals]) => vals.map((v) => ({ x: ms(d), y: v })));

const snrPanel: PanelSpec = {
  key: 'snr',
  x: 72, y: 80, w: 1116, h: 285, ml: 72, mr: 30, mt: 80, mb: 60,
  labels: [
    { segs: plain('GJ555'), x: 600, y: 40, size: 16.7 },
    { segs: plain('EXT SNR'), x: 21, y: 222.5, size: LABEL_SIZE, rotate: true },
    { segs: plain('Date'), x: 630, y: 399, size: LABEL_SIZE },
  ],
  legend: (ctx) => {
    legendFrame(ctx, 79.5, 329.5, 533, 28);
    dot(ctx, 98.3, 343.3, 2.7, BLUE_A);
    drawRich(ctx, { segs: micron('SNR[Order 15 (#134 1.08', 'm)]'), x: 124.3, y: 343.3, size: LABEL_SIZE, align: 'left' });
    dot(ctx, 376.9, 343.3, 2.7, ORANGE_A);
    drawRich(ctx, { segs: micron('SNR[Order 60 (#89 1.63', 'm)]'), x: 403.3, y: 343.3, size: LABEL_SIZE, align: 'left' });
  },
  build: () => ({
    type: 'scatter',
    datasets: [
      { data: snrPoints(snrOrder60), showLine: false, pointRadius: 2.7, pointBackgroundColor: ORANGE_A, pointBorderWidth: 0 },
      { data: snrPoints(snrOrder15), showLine: false, pointRadius: 2.7, pointBackgroundColor: BLUE_A, pointBorderWidth: 0 },
    ],
    x: dateAxis(60),
    y: linearAxis('y', snrLimits, snrTicks, (v) => String(v), 72),
  }),
};

const bervPanel: PanelSpec = {
  key: 'berv',
  x: 72, y: 465, w: 1116, h: 285, ml: 72, mr: 30, mt: 40, mb: 60,
  labels: [
    { segs: plain(`BERV coverage = ${bervCoverage.toFixed(3)} km/s`), x: 630, y: 451.7, size: LABEL_SIZE },
    { segs: plain('Date'), x: 630, y: 784, size: LABEL_SIZE },
    {
      segs: [
        { t: 'v', it: true }, { t: 'tot', it: true, sub: true }, { t: ' [km/s] = ' },
        { t: 'v', it: true }, { t: 'sys', it: true, sub: true }, { t: ' \u2212 ' }, { t: 'BERV', it: true },
      ],
      x: 15.3, y: 607.5, size: LABEL_SIZE, rotate: true,
    },
  ],
  legend: (ctx) => {
    const fs = 11.1;
    legendFrame(ctx, 78.5, 470.5, 197, 71);
    dot(ctx, 93.3, 479.3, 5, 'rgba(0,128,0,0.5)');
    drawRich(ctx, { segs: plain('Passed all QC (PP to TCORR)'), x: 113.6, y: 479.3, size: fs, align: 'left' });
    cross(ctx, 93.3, 495, 7, 'blue');
    drawRich(ctx, { segs: plain('Failed QC (EXT)'), x: 113.6, y: 495, size: fs, align: 'left' });
    cross(ctx, 93.3, 511, 7, 'red');
    drawRich(ctx, { segs: plain('Failed QC (TCORR)'), x: 113.6, y: 511, size: fs, align: 'left' });
    hline(ctx, 81, 105, 527.3, BLUE, 2);
    drawRich(ctx, {
      segs: [{ t: 'v', it: true }, { t: 'sys', it: true, sub: true }, { t: ` = ${vsys} [km/s]` }],
      x: 113.6, y: 527.3, size: fs, align: 'left',
    });
  },
  build: () => ({
    type: 'line',
    datasets: [
      {
        data: dateLimits.map((d) => ({ x: ms(d), y: vsys })),
        borderColor: BLUE, borderWidth: 2, pointRadius: 0, fill: false, clip: 0,
      },
      {
        data: bervTrackDates.map((d, i) => ({ x: ms(d), y: bervTrack[i] })),
        borderColor: 'rgba(128,128,128,0.9)', borderWidth: 2.2, borderDash: [2.2, 3.9],
        cubicInterpolationMode: 'monotone', pointRadius: 0, fill: false, clip: 0,
      },
      {
        data: bervPassed.map(([d, v]) => ({ x: ms(d), y: v })),
        showLine: false, pointRadius: 5.2, pointBackgroundColor: 'rgba(0,128,0,0.9)', pointBorderWidth: 0,
      },
    ],
    x: dateAxis(60),
    y: linearAxis('y', bervLimits, bervTicks, signed, 72),
  }),
};

const spectrumPanel: PanelSpec = {
  key: 'spec',
  x: 72, y: 850, w: 1116, h: 285, ml: 72, mr: 30, mt: 40, mb: 60,
  labels: [
    {
      segs: micron('Spectrum closest to Median SNR[Order 60 (#89 1.63', 'm)]     SNR:173.66     File: NIRPS_2026-04-18T06_24_59_252.fits'),
      x: 630, y: 836.7, size: LABEL_SIZE,
    },
    { segs: plain('Wavelength [nm]'), x: 630, y: 1169.5, size: LABEL_SIZE },
    { segs: plain('Flux'), x: 10.5, y: 992.5, size: LABEL_SIZE, rotate: true },
  ],
  legend: (ctx) => {
    legendFrame(ctx, 804.5, 857.5, 376.5, 25);
    hline(ctx, 810.5, 838.5, 868.3, '#000', 1);
    drawRich(ctx, { segs: plain('Extracted Spectrum'), x: 849.5, y: 868.3, size: LABEL_SIZE, align: 'left' });
    hline(ctx, 1016.4, 1044.2, 868.3, 'red', 1);
    drawRich(ctx, { segs: plain('Telluric Corrected'), x: 1055, y: 868.3, size: LABEL_SIZE, align: 'left' });
  },
  build: () => ({
    type: 'line',
    datasets: [
      lineSet(tcLines, tcEnvelope, '#ff0000', 0.9),
      ...envelopeSets(tcEnvelope, '#ff0000', 0.7),
      lineSet(extLines, extEnvelope, '#000000', 0.9),
      ...envelopeSets(extEnvelope, '#000000', 0.7),
    ],
    x: linearAxis('x', specWaveLimits, specWaveTicks, (v) => String(v), 60),
    y: linearAxis('y', specFluxLimits, specFluxTicks, (v) => v.toFixed(3), 72),
  }),
};

function zoomPanel(
  n: number, x: number, ml: number, rows: [number, number, number][],
  waveTicks: number[], waveFmt: (v: number) => string, fluxLimits: number[], fluxTicks: number[], withFluxLabel: boolean,
): PanelSpec {
  const cx = x + 164;
  const labels: Label[] = [
    { segs: plain(`Zoom ${n}`), x: cx, y: 1221.7, size: LABEL_SIZE },
    { segs: plain('Wavelength [nm]'), x: cx, y: 1555, size: LABEL_SIZE },
  ];
  if (withFluxLabel) labels.push({ segs: plain('Flux'), x: 18.4, y: 1377.5, size: LABEL_SIZE, rotate: true });
  return {
    key: `zoom${n}`,
    x, y: 1235, w: 328, h: 285, ml, mr: 40, mt: 40, mb: 70,
    labels,
    build: () => ({
      type: 'line',
      datasets: [
        { data: rows.map((r) => ({ x: r[0], y: r[2] })), borderColor: '#ff0000', borderWidth: 0.9, pointRadius: 0, fill: false, clip: 0 },
        { data: rows.map((r) => ({ x: r[0], y: r[1] })), borderColor: 'rgba(0,0,0,0.8)', borderWidth: 0.9, pointRadius: 0, fill: false, clip: 0 },
      ],
      x: linearAxis('x', [waveTicks[0], waveTicks[waveTicks.length - 1]], waveTicks, waveFmt, 70),
      y: linearAxis('y', fluxLimits, fluxTicks, (v) => v.toFixed(2), ml),
    }),
  };
}

const panels: PanelSpec[] = [
  snrPanel,
  bervPanel,
  spectrumPanel,
  zoomPanel(1, 72, 72, zoom1Rows, zoom1WaveTicks, (v) => v.toFixed(1), [0.032, 0.1375], zoom1FluxTicks, true),
  zoomPanel(2, 466, 60, zoom2Rows, zoom2WaveTicks, (v) => String(v), [0.0422, 0.1841], zoom2FluxTicks, false),
  zoomPanel(3, 860, 60, zoom3Rows, zoom3WaveTicks, (v) => v.toFixed(1), [0.0489, 0.2094], zoom3FluxTicks, false),
];

/* ---------------- rendering ---------------- */
function Panel({ spec }: { spec: PanelSpec }) {
  const ref = useRef<HTMLCanvasElement | null>(null);
  const W = spec.w + spec.ml + spec.mr;
  const H = spec.h + spec.mt + spec.mb;
  const ox = spec.x - spec.ml;
  const oy = spec.y - spec.mt;

  useEffect(() => {
    const canvas = ref.current;
    if (!canvas) return;
    const built = spec.build();
    const decor = {
      id: 'panelDecor',
      beforeDraw(chart: any) {
        const { ctx, chartArea: a } = chart;
        ctx.save();
        ctx.fillStyle = PLOT_BG;
        ctx.fillRect(a.left, a.top, a.right - a.left, a.bottom - a.top);
        ctx.restore();
      },
      afterDraw(chart: any) {
        const { ctx, chartArea: a } = chart;
        ctx.save();
        ctx.strokeStyle = '#000';
        ctx.lineWidth = 1;
        ctx.strokeRect(a.left - 0.5, a.top - 0.5, a.right - a.left + 1, a.bottom - a.top + 1);
        ctx.translate(-ox, -oy);
        spec.labels.forEach((l) => drawRich(ctx, l));
        if (spec.legend) spec.legend(ctx);
        ctx.restore();
      },
    };
    const chart = new Chart(canvas, {
      type: built.type as any,
      data: { datasets: built.datasets },
      options: {
        animation: false,
        responsive: false,
        maintainAspectRatio: false,
        devicePixelRatio: 1,
        events: [],
        layout: { padding: { left: 0, top: spec.mt, right: spec.mr, bottom: 0 } },
        plugins: { legend: { display: false }, tooltip: { enabled: false }, title: { display: false } },
        elements: { point: { radius: 0, hoverRadius: 0 }, line: { tension: 0 } },
        scales: { x: built.x, y: built.y },
      } as any,
      plugins: [decor],
    });
    return () => chart.destroy();
  }, []);

  return (
    <canvas
      ref={ref}
      width={W}
      height={H}
      style={{ position: 'absolute', left: ox, top: oy, width: W, height: H }}
    />
  );
}

export default function App() {
  return (
    <div style={{ position: 'absolute', left: 0, top: 0, width: 1200, height: 1600, overflow: 'hidden', background: '#fff' }}>
      {panels.map((p) => (
        <Panel key={p.key} spec={p} />
      ))}
    </div>
  );
}
